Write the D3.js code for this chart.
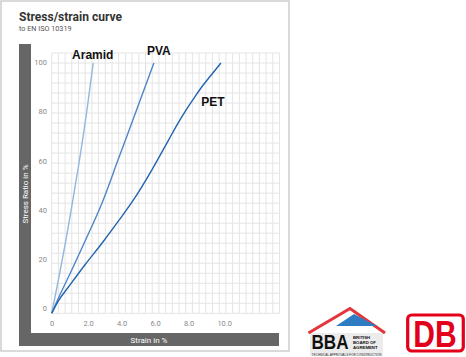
<!DOCTYPE html>
<html><head><meta charset="utf-8">
<script src="https://cdn.jsdelivr.net/npm/d3@7"></script>
<style>body{margin:0;background:#fff}svg{display:block}</style>
</head><body>
<svg id="c" width="466" height="357"></svg>
<script>
// ---- data ----
const strainTicks = [0, 2, 4, 6, 8, 10];
const stressTicks = [0, 20, 40, 60, 80, 100];
const strainTickLabels = ["0", "2.0", "4.0", "6.0", "8.0", "10.0"];
const stressTickLabels = ["0", "20", "40", "60", "80", "100"];
const seriesNames = ["Aramid", "PVA", "PET"];
const aramidStrain = [0, 0.30, 0.59, 0.87, 1.13, 1.38, 1.63, 1.86, 2.08, 2.28, 2.48];
const aramidStress = [0, 10, 20, 30, 40, 50, 60, 70, 80, 90, 100];
const pvaStrain = [0, 0.5, 1, 2, 3, 4, 5, 6.1];
const pvaStress = [0, 7.5, 14.5, 29, 44, 62, 80, 100];
const petStrain = [0, 0.4, 1, 2, 3, 4, 5, 6, 7, 7.5, 8, 8.5, 9, 9.5, 10.1];
const petStress = [0, 5, 10.5, 19.5, 28, 37, 46.5, 57.5, 69.5, 75.5, 81, 86, 90.8, 95, 100];

const svg = d3.select("#c");
const x = d3.scaleLinear().domain([0, 10]).range([51.7, 219.2]);
const y = d3.scaleLinear().domain([0, 100]).range([313.3, 63]);
const yLab = d3.scaleLinear().domain([0, 100]).range([308, 62.8]);
const font = "Roboto, 'Liberation Sans', sans-serif";
const boldFont = "'Liberation Sans', Arial, sans-serif";

// card
svg.append("rect").attr("x", 1).attr("y", 1).attr("width", 288).attr("height", 350)
  .attr("fill", "#fff").attr("stroke", "#d0d0d0").attr("stroke-width", 1.6);

// title
svg.append("text").attr("x", 19).attr("y", 20.5).text("Stress/strain curve")
  .attr("font-family", font).attr("font-weight", "bold")
  .attr("font-size", 12.5).attr("fill", "#333").attr("textLength", 103).attr("lengthAdjust", "spacingAndGlyphs");
svg.append("text").attr("x", 19).attr("y", 31.2).text("to EN ISO 10319")
  .attr("font-family", font)
  .attr("font-size", 7).attr("fill", "#555").attr("textLength", 52.5).attr("lengthAdjust", "spacingAndGlyphs");

// axis bars
svg.append("rect").attr("x", 19).attr("y", 44).attr("width", 12).attr("height", 302).attr("fill", "#666");
svg.append("rect").attr("x", 19).attr("y", 333).attr("width", 260).attr("height", 13).attr("fill", "#666");
svg.append("text").attr("x", 149).attr("y", 342.6).attr("text-anchor", "middle").text("Strain in %")
  .attr("font-family", font).attr("font-size", 8).attr("fill", "#fff");
svg.append("text").attr("transform", "translate(28.4,194) rotate(-90)").attr("text-anchor", "middle").text("Stress Ratio in %")
  .attr("font-family", font).attr("font-size", 8).attr("fill", "#fff");

// grid
const gx = d3.range(0, 13.61, 0.4);
const gy = d3.range(0, 104.1, 4);
const grid = svg.append("g").attr("stroke", "#e4e4e4").attr("stroke-width", 1);
grid.selectAll("line.v").data(gx).join("line").attr("class", "v")
  .attr("x1", d => x(d)).attr("x2", d => x(d)).attr("y1", y(0)).attr("y2", y(104));
grid.selectAll("line.h").data(gy).join("line").attr("class", "h")
  .attr("x1", x(0)).attr("x2", x(13.6)).attr("y1", d => y(d)).attr("y2", d => y(d));

// tick labels
svg.append("g").selectAll("text").data(stressTicks).join("text")
  .attr("x", 47).attr("y", d => yLab(d)).attr("dy", "0.35em").attr("text-anchor", "end")
  .text((d, i) => stressTickLabels[i]).attr("font-family", font).attr("font-size", 7.5).attr("fill", "#8a8a8a");
svg.append("g").selectAll("text").data(strainTicks).join("text")
  .attr("x", d => x(d) - 1.8).attr("y", 325.6).attr("text-anchor", "start")
  .text((d, i) => strainTickLabels[i]).attr("font-family", font).attr("font-size", 7.5).attr("fill", "#8a8a8a");

// curves
const series = [
  { name: seriesNames[0], xs: aramidStrain, ys: aramidStress, color: "#93b6e0", dx: -0.5, dy: -4.4 },
  { name: seriesNames[1], xs: pvaStrain, ys: pvaStress, color: "#4f86c8", dx: 5, dy: -7.7 },
  { name: seriesNames[2], xs: petStrain, ys: petStress, color: "#2264b0", dx: -8, dy: 43.3 }
];
const line = d3.line().x(d => x(d[0])).y(d => y(d[1])).curve(d3.curveMonotoneX);
series.forEach(s => {
  const pts = s.xs.map((v, i) => [v, s.ys[i]]);
  svg.append("path").attr("d", line(pts)).attr("fill", "none").attr("stroke", s.color).attr("stroke-width", 1.4);
  const last = pts[pts.length - 1];
  svg.append("text").attr("x", x(last[0]) + s.dx).attr("y", y(last[1]) + s.dy).attr("text-anchor", "middle")
    .text(s.name).attr("font-family", boldFont).attr("font-weight", "bold")
    .attr("font-size", 12).attr("fill", "#111");
});

// BBA logo
const bba = svg.append("g");
bba.append("rect").attr("x", 310).attr("y", 333).attr("width", 73).attr("height", 23).attr("fill", "#ececec");
bba.append("polyline").attr("points", "308.5,333 350,308.5 385,333").attr("fill", "none")
  .attr("stroke", "#e4353b").attr("stroke-width", 3).attr("stroke-linejoin", "miter");
bba.append("polygon").attr("points", "336,326 354,314 377,326").attr("fill", "#2d7cc1");
bba.append("text").attr("x", 311.5).attr("y", 349.3).text("BBA").attr("font-family", boldFont)
  .attr("font-weight", "bold").attr("font-size", 19.5).attr("fill", "#111").attr("textLength", 37).attr("lengthAdjust", "spacingAndGlyphs");
["BRITISH", "BOARD OF", "AGREMENT"].forEach((t, i) => {
  bba.append("text").attr("x", 353).attr("y", 338.6 + i * 5.2).text(t).attr("font-family", boldFont)
    .attr("font-weight", "bold").attr("font-size", 4.3).attr("fill", "#111");
});
bba.append("text").attr("x", 311.5).attr("y", 356.3).text("TECHNICAL APPROVALS FOR CONSTRUCTION")
  .attr("font-family", boldFont).attr("font-size", 3).attr("fill", "#333")
  .attr("textLength", 70).attr("lengthAdjust", "spacingAndGlyphs");

// DB logo
svg.append("rect").attr("x", 407.7).attr("y", 315).attr("width", 55.6).attr("height", 36).attr("rx", 4)
  .attr("fill", "#fff").attr("stroke", "#e3001b").attr("stroke-width", 3.2);
svg.append("text").attr("x", 435).attr("y", 346.7).attr("text-anchor", "middle").text("DB")
  .attr("font-family", boldFont).attr("font-weight", "bold").attr("font-size", 37)
  .attr("fill", "#e3001b").attr("textLength", 43.4).attr("lengthAdjust", "spacingAndGlyphs");
</script>
</body></html>
